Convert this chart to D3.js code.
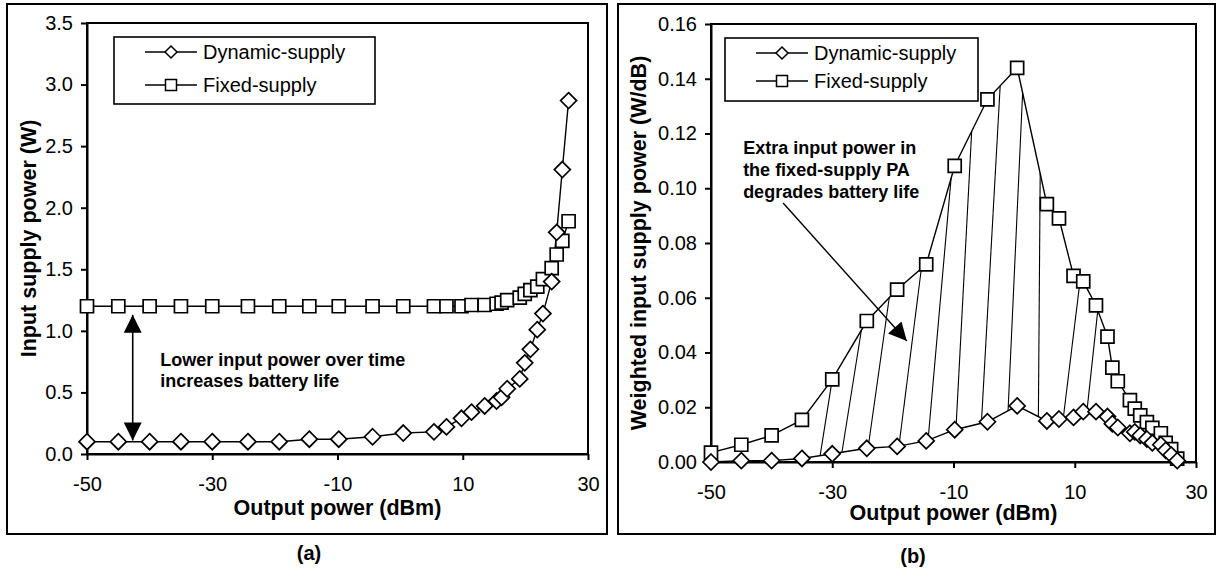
<!DOCTYPE html>
<html>
<head>
<meta charset="utf-8">
<script src="https://cdn.jsdelivr.net/npm/d3@7"></script>
<style>
  body { margin: 0; background: #fff; }
  svg text { font-family: "Liberation Sans", Arial, sans-serif; fill: #000; }
</style>
</head>
<body>
<svg id="chart" width="1217" height="581"></svg>
<script>
// output power points (dBm), shared by both panels
const pout = [-50, -45, -40, -35, -30, -24.3, -19.3, -14.5, -9.8, -4.4, 0.5, 5.4, 7.4, 9.8,
  11.4, 13.5, 15.4, 16.2, 17.1, 19.1, 19.9, 20.8, 21.9, 22.8, 24.2, 25.0, 25.9, 26.9];

// (a) input supply power (W)
const dynSupply = [0.10, 0.10, 0.10, 0.10, 0.10, 0.10, 0.10, 0.12, 0.12, 0.14, 0.17, 0.18, 0.22, 0.29,
  0.34, 0.39, 0.43, 0.46, 0.53, 0.61, 0.74, 0.85, 1.01, 1.14, 1.40, 1.80, 2.31, 2.87];
const fixSupply = [1.20, 1.20, 1.20, 1.20, 1.20, 1.20, 1.20, 1.20, 1.20, 1.20, 1.20, 1.20, 1.20, 1.20,
  1.21, 1.21, 1.22, 1.23, 1.25, 1.27, 1.30, 1.33, 1.36, 1.42, 1.51, 1.62, 1.73, 1.89];

// (b) weighted input supply power (W/dB)
const dynWeighted = [0.0000, 0.0005, 0.0005, 0.0013, 0.0030, 0.0050, 0.0057, 0.0077, 0.0118, 0.0147,
  0.0205, 0.0150, 0.0157, 0.0163, 0.0184, 0.0184, 0.0166, 0.0140, 0.0126, 0.0105, 0.0110, 0.0097,
  0.0084, 0.0070, 0.0063, 0.0043, 0.0026, 0.0005];
const fixWeighted = [0.0034, 0.0063, 0.0097, 0.0154, 0.0302, 0.0515, 0.0630, 0.0722, 0.1082, 0.1325,
  0.1440, 0.0942, 0.0890, 0.0680, 0.0660, 0.0572, 0.0458, 0.0345, 0.0295, 0.0226, 0.0195, 0.0170,
  0.0146, 0.0125, 0.0105, 0.0070, 0.0047, 0.0012];

// hatch strokes in (b): [x on dynamic curve, x on fixed curve]
const hatchPairs = [[-32.0, -30.0], [-28.4, -25.2], [-24.1, -20.6], [-19.0, -15.3], [-14.2, -10.4],
  [-9.6, -7.0], [-5.4, -2.3], [-1.0, 1.4], [4.0, 4.3], [8.1, 10.9], [12.0, 13.8]];

const xTicks = [-50, -30, -10, 10, 30];
const yTicksA = [0, 0.5, 1.0, 1.5, 2.0, 2.5, 3.0, 3.5];
const yTicksB = [0, 0.02, 0.04, 0.06, 0.08, 0.10, 0.12, 0.14, 0.16];
const seriesNames = ["Dynamic-supply", "Fixed-supply"];

const svg = d3.select("#chart");

function diamond(sel, r) {
  sel.attr("d", `M0,${-r}L${r},0L0,${r}L${-r},0Z`);
}
function square(sel, r) {
  sel.attr("d", `M${-r},${-r}H${r}V${r}H${-r}Z`);
}

function lerp(xs, ys, x) {
  for (let i = 0; i < xs.length - 1; i++) {
    if (x >= xs[i] && x <= xs[i + 1]) {
      const t = (x - xs[i]) / (xs[i + 1] - xs[i]);
      return ys[i] + t * (ys[i + 1] - ys[i]);
    }
  }
  return ys[ys.length - 1];
}

// plain hyphen for negatives, like the original
const hyphen = f => d => f(d).replace("\u2212", "-");

function drawPanel(cfg) {
  const g = svg.append("g");
  // outer frame
  g.append("rect").attr("x", cfg.frame[0]).attr("y", cfg.frame[1])
    .attr("width", cfg.frame[2]).attr("height", cfg.frame[3])
    .attr("fill", "none").attr("stroke", "#000").attr("stroke-width", 2);

  const x = d3.scaleLinear().domain([-50, 30]).range([cfg.l, cfg.r]);
  const y = d3.scaleLinear().domain(cfg.yDomain).range([cfg.b, cfg.t]);

  // plot border
  g.append("rect").attr("x", cfg.l).attr("y", cfg.t)
    .attr("width", cfg.r - cfg.l).attr("height", cfg.b - cfg.t)
    .attr("fill", "none").attr("stroke", "#000").attr("stroke-width", 2);

  const xAxis = g.append("g").attr("transform", `translate(0,${cfg.b})`)
    .call(d3.axisBottom(x).tickValues(xTicks).tickSize(6).tickSizeOuter(0).tickPadding(17)
      .tickFormat(hyphen(d3.format("d"))));
  const yAxis = g.append("g").attr("transform", `translate(${cfg.l},0)`)
    .call(d3.axisLeft(y).tickValues(cfg.yTicks).tickSize(6).tickSizeOuter(0).tickPadding(8)
      .tickFormat(d3.format(cfg.yFormat)));
  [xAxis, yAxis].forEach(a => {
    a.select(".domain").attr("stroke-width", 2);
    a.selectAll(".tick line").attr("stroke-width", 2);
    a.selectAll(".tick text").attr("font-size", 20).attr("font-family", "Liberation Sans, Arial, sans-serif");
  });

  // axis titles
  g.append("text").attr("x", (cfg.l + cfg.r) / 2).attr("y", cfg.xTitleY)
    .attr("text-anchor", "middle").attr("dominant-baseline", "central")
    .attr("font-size", 21.5).attr("font-weight", "bold").text("Output power (dBm)");
  g.append("text").attr("transform", `translate(${cfg.yTitleX},${(cfg.t + cfg.b) / 2}) rotate(-90)`)
    .attr("text-anchor", "middle").attr("dominant-baseline", "central")
    .attr("font-size", 21.5).attr("font-weight", "bold").text(cfg.yTitle);

  // panel label
  g.append("text").attr("x", cfg.labelX).attr("y", cfg.labelY)
    .attr("text-anchor", "middle").attr("dominant-baseline", "central")
    .attr("font-size", 20).attr("font-weight", "bold").text(cfg.label);

  const plot = g.append("g");

  if (cfg.hatch) {
    plot.selectAll("line.hatch").data(cfg.hatch).join("line")
      .attr("x1", d => x(d[0])).attr("y1", d => y(lerp(pout, cfg.dyn, d[0])))
      .attr("x2", d => x(d[1])).attr("y2", d => y(lerp(pout, cfg.fix, d[1])))
      .attr("stroke", "#000").attr("stroke-width", 1.1);
  }

  const line = d3.line().x((d, i) => x(pout[i])).y(d => y(d));
  [cfg.fix, cfg.dyn].forEach(s => {
    plot.append("path").attr("d", line(s)).attr("fill", "none")
      .attr("stroke", "#000").attr("stroke-width", 1.4);
  });

  plot.selectAll("path.sq").data(cfg.fix).join("path").attr("class", "sq")
    .attr("transform", (d, i) => `translate(${x(pout[i])},${y(d)})`)
    .call(square, 6.5).attr("fill", "#fff").attr("stroke", "#000").attr("stroke-width", 1.7);
  plot.selectAll("path.dm").data(cfg.dyn).join("path").attr("class", "dm")
    .attr("transform", (d, i) => `translate(${x(pout[i])},${y(d)})`)
    .call(diamond, 8).attr("fill", "#fff").attr("stroke", "#000").attr("stroke-width", 1.7);

  // legend
  const lg = cfg.legend;
  g.append("rect").attr("x", lg.x).attr("y", lg.y).attr("width", lg.w).attr("height", lg.h)
    .attr("fill", "#fff").attr("stroke", "#000").attr("stroke-width", 1.6);
  seriesNames.forEach((name, i) => {
    const yy = lg.y + lg.rows[i];
    g.append("line").attr("x1", lg.x + 31).attr("x2", lg.x + 83).attr("y1", yy).attr("y2", yy)
      .attr("stroke", "#000").attr("stroke-width", 1.4);
    g.append("path").attr("transform", `translate(${lg.x + 57},${yy})`)
      .call(i === 0 ? diamond : square, i === 0 ? 6 : 5.5)
      .attr("fill", "#fff").attr("stroke", "#000").attr("stroke-width", 1.5);
    g.append("text").attr("x", lg.x + 89).attr("y", yy).attr("dominant-baseline", "central")
      .attr("font-size", 20).text(name);
  });

  return { g, x, y };
}

// arrowhead marker
const defs = svg.append("defs");
defs.append("marker").attr("id", "headB").attr("viewBox", "0 0 10 10")
  .attr("refX", 10).attr("refY", 5).attr("markerWidth", 20).attr("markerHeight", 18)
  .attr("markerUnits", "userSpaceOnUse").attr("orient", "auto-start-reverse")
  .append("path").attr("d", "M0,0L10,5L0,10Z").attr("fill", "#000");

const A = drawPanel({
  frame: [7, 4, 600, 530], l: 87, r: 588, t: 23, b: 454,
  yDomain: [0, 3.5], yTicks: yTicksA, yFormat: ".1f",
  yTitle: "Input supply power (W)", yTitleX: 29, xTitleY: 508,
  label: "(a)", labelX: 309, labelY: 553,
  dyn: dynSupply, fix: fixSupply,
  legend: { x: 114, y: 37, w: 261, h: 67, rows: [15, 48] }
});

const B = drawPanel({
  frame: [618, 4, 597, 530], l: 711, r: 1196, t: 24, b: 462,
  yDomain: [0, 0.16], yTicks: yTicksB, yFormat: ".2f",
  yTitle: "Weighted input supply power (W/dB)", yTitleX: 639, xTitleY: 513,
  label: "(b)", labelX: 913, labelY: 556,
  dyn: dynWeighted, fix: fixWeighted, hatch: hatchPairs,
  legend: { x: 725, y: 38, w: 253, h: 63, rows: [15, 43] }
});

// (a) double arrow and note
const arrowA = { x: -42.7, y0: 0.11, y1: 1.13 };
A.g.append("line").attr("x1", A.x(arrowA.x)).attr("x2", A.x(arrowA.x))
  .attr("y1", A.y(arrowA.y0)).attr("y2", A.y(arrowA.y1))
  .attr("stroke", "#000").attr("stroke-width", 1.6)
  .attr("marker-start", "url(#headB)").attr("marker-end", "url(#headB)");
const noteA = ["Lower input power over time", "increases battery life"];
A.g.append("text").attr("x", A.x(-38.3)).attr("y", A.y(0.76))
  .attr("font-size", 18).attr("font-weight", "bold")
  .selectAll("tspan").data(noteA).join("tspan")
  .attr("x", A.x(-38.3)).attr("dy", (d, i) => i ? 21 : 6).text(d => d);

// (b) arrow and note
const arrowB = { x0: -38.1, y0: 0.0946, x1: -17.7, y1: 0.0442 };
B.g.append("line").attr("x1", B.x(arrowB.x0)).attr("y1", B.y(arrowB.y0))
  .attr("x2", B.x(arrowB.x1)).attr("y2", B.y(arrowB.y1))
  .attr("stroke", "#000").attr("stroke-width", 1.4).attr("marker-end", "url(#headB)");
const noteB = ["Extra input power in", "the fixed-supply PA", "degrades battery life"];
B.g.append("text").attr("x", B.x(-44.7)).attr("y", B.y(0.1147))
  .attr("font-size", 18).attr("font-weight", "bold")
  .selectAll("tspan").data(noteB).join("tspan")
  .attr("x", B.x(-44.7)).attr("dy", (d, i) => i ? 22 : 6).text(d => d);
</script>
</body>
</html>
